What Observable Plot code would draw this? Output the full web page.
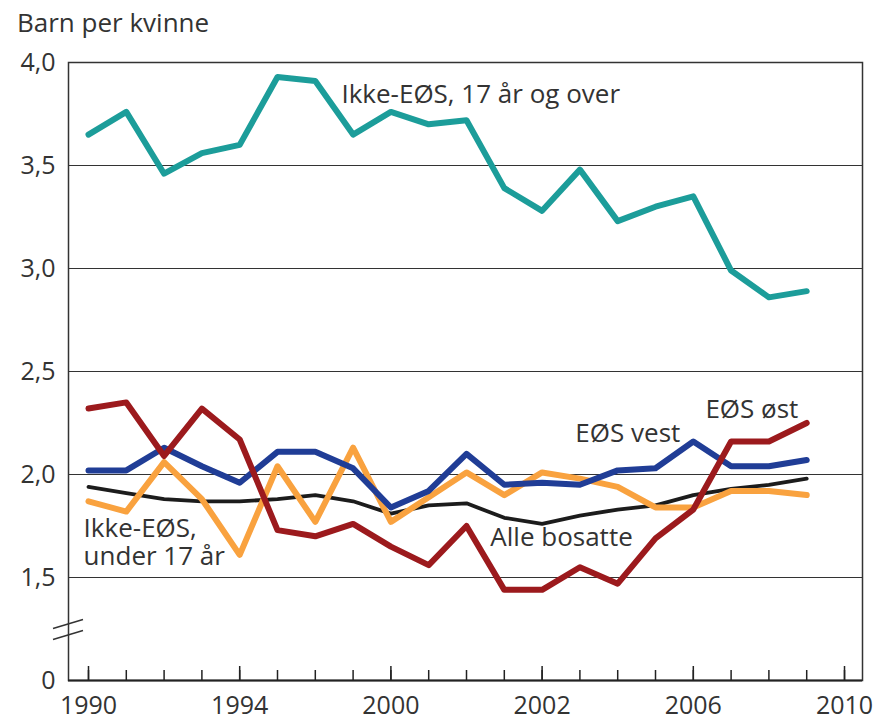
<!DOCTYPE html>
<html><head><meta charset="utf-8">
<script src="https://cdn.jsdelivr.net/npm/d3@7"></script>
<script src="https://cdn.jsdelivr.net/npm/@observablehq/plot@0.6"></script>
<style>
body{margin:0;background:#fff;font-family:"Open Sans",sans-serif;}
#title{height:44px;box-sizing:border-box;padding:9px 0 0 17px;font-size:26px;line-height:26px;color:#333;white-space:nowrap;}
#chart svg{display:block;}
</style></head><body>
<div id="title">Barn per kvinne</div>
<div id="chart"></div>
<script>
// ---- data ----
const years = [1990,1991,1992,1993,1994,1995,1996,1997,1998,1999,2000,2001,2002,2003,2004,2005,2006,2007,2008,2009];
const ikkeEosOver17 = [3.65,3.76,3.46,3.56,3.60,3.93,3.91,3.65,3.76,3.70,3.72,3.39,3.28,3.48,3.23,3.30,3.35,2.99,2.86,2.89];
const alleBosatte   = [1.94,1.91,1.88,1.87,1.87,1.88,1.90,1.87,1.81,1.85,1.86,1.79,1.76,1.80,1.83,1.85,1.90,1.93,1.95,1.98];
const ikkeEosUnder17= [1.87,1.82,2.06,1.88,1.61,2.04,1.77,2.13,1.77,1.89,2.01,1.90,2.01,1.98,1.94,1.84,1.84,1.92,1.92,1.90];
const eosVest       = [2.02,2.02,2.13,2.04,1.96,2.11,2.11,2.03,1.84,1.92,2.10,1.95,1.96,1.95,2.02,2.03,2.16,2.04,2.04,2.07];
const eosOst        = [2.32,2.35,2.09,2.32,2.17,1.73,1.70,1.76,1.65,1.56,1.75,1.44,1.44,1.55,1.47,1.69,1.83,2.16,2.16,2.25];

const seriesNames  = ["Ikke-EØS, 17 år og over","Alle bosatte","Ikke-EØS, under 17 år","EØS vest","EØS øst"];
const seriesValues = [ikkeEosOver17, alleBosatte, ikkeEosUnder17, eosVest, eosOst];

// ---- ticks ----
const minorTickYears = [1990,1991,1992,1993,1994,1995,1996,1997,1998,1999,2000,2001,2002,2003,2004,2005,2006,2007,2008,2009,2010];
const majorTickYears = [1990,1994,1998,2002,2006,2010];
const xTickLabels    = ["1990","1994","2000","2002","2006","2010"];
const yTickValues    = [1,1.5,2,2.5,3,3.5,4];
const yTickLabels    = ["0","1,5","2,0","2,5","3,0","3,5","4,0"];
const gridValues     = [1.5,2,2.5,3,3.5];

// ---- annotation labels ----
const labelTexts  = ["Ikke-EØS, 17 år og over","EØS vest","EØS øst","Alle bosatte","Ikke-EØS,","under 17 år"];
const labelYears  = [1996.69,2002.88,2006.32,2000.63,1989.87,1989.87];
const labelValues = [3.844,2.200,2.317,1.693,1.739,1.603];

// ---- styles ----
const seriesColors = ["#1c9d9a","#1c1c1c","#f9a23f","#203d96","#9c1a1d"];
const seriesWidths = [6,3.8,6,6,6];

const rows = seriesNames.map((name,s)=>years.map((yr,i)=>({name, year:yr, value:seriesValues[s][i]})));
const labels = labelTexts.map((t,i)=>({text:t, year:labelYears[i], value:labelValues[i]}));

const breakMark = (index, scales, values, dimensions) => {
  const g = d3.create("svg:g").attr("stroke","#333").attr("stroke-width",1.5);
  const cx = dimensions.marginLeft, cy = scales.y(1.245);
  for (const off of [-5.5, 5.5]) {
    g.append("line").attr("x1",cx-15).attr("y1",cy+off+4.5).attr("x2",cx+15).attr("y2",cy+off-4.5);
  }
  return g.node();
};

const chart = Plot.plot({
  width: 877, height: 684,
  marginLeft: 68, marginRight: 15, marginTop: 18, marginBottom: 48,
  style: {fontFamily: "'Open Sans', sans-serif", fontSize: "25px", color: "#333", background: "#fff"},
  x: {type: "linear", domain: [1989.471, 2010.476]},
  y: {type: "linear", domain: [1, 4]},
  marks: [
    Plot.ruleY(gridValues, {stroke: "#333", strokeWidth: 1.2}),
    Plot.frame({stroke: "#333", strokeWidth: 1.5}),
    Plot.ruleY([1], {stroke: "#222", strokeWidth: 2}),
    breakMark,
    Plot.axisY(yTickValues, {tickSize: 0, tickPadding: 13, label: null, fontSize: 25,
      tickFormat: d => yTickLabels[yTickValues.indexOf(d)]}),
    Plot.axisX(minorTickYears, {tickSize: -10, tickFormat: () => "", label: null, stroke: "#222", strokeWidth: 1.5}),
    Plot.axisX(majorTickYears, {tickSize: -14, tickFormat: () => "", label: null, stroke: "#222", strokeWidth: 1.5}),
    Plot.axisX(majorTickYears, {tickSize: 0, tickPadding: 16, label: null, fontSize: 25,
      tickFormat: d => xTickLabels[majorTickYears.indexOf(d)]}),
    Plot.text(labels, {x: "year", y: "value", text: "text", textAnchor: "start", lineAnchor: "middle",
      fontSize: 26, fill: "#333"}),
    ...rows.map((r,s) => Plot.lineY(r, {x: "year", y: "value", stroke: seriesColors[s],
      strokeWidth: seriesWidths[s], strokeLinejoin: "round", strokeLinecap: "round"}))
  ]
});
document.getElementById("chart").append(chart);
</script>
</body></html>
